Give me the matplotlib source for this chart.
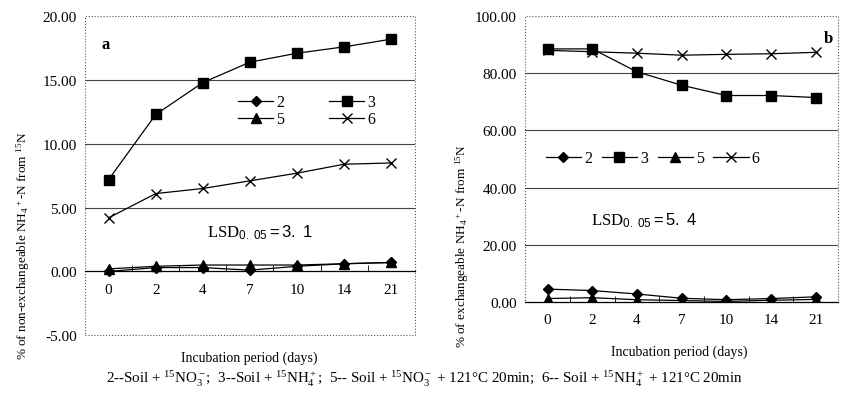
import numpy as np
import matplotlib.pyplot as plt
from matplotlib.patches import Rectangle

plt.rcParams['font.family'] = ['Liberation Serif', 'DejaVu Serif']
plt.rcParams['mathtext.fontset'] = 'custom'
plt.rcParams['mathtext.rm'] = 'Liberation Serif'
plt.rcParams['mathtext.it'] = 'Liberation Serif'
plt.rcParams['mathtext.sf'] = 'Liberation Sans'

days = ['0', '2', '4', '7', '10', '14', '21']

# panel a: non-exchangeable NH4+-N
a_s2 = [0.0, 0.3, 0.3, 0.1, 0.4, 0.6, 0.7]
a_s3 = [7.2, 12.3, 14.8, 16.4, 17.1, 17.6, 18.2]
a_s5 = [0.2, 0.4, 0.5, 0.5, 0.5, 0.6, 0.7]
a_s6 = [4.2, 6.1, 6.5, 7.1, 7.7, 8.4, 8.5]

# panel b: exchangeable NH4+-N
b_s2 = [4.5, 4.0, 2.8, 1.3, 0.8, 1.2, 1.8]
b_s3 = [88.5, 88.5, 80.5, 75.8, 72.2, 72.2, 71.5]
b_s5 = [1.2, 1.5, 0.8, 0.5, 0.2, 0.6, 0.9]
b_s6 = [88.0, 87.5, 87.0, 86.3, 86.6, 86.8, 87.3]

series_names = ['2', '3', '5', '6']
markers = {'2': 'D', '3': 's', '5': '^', '6': 'x'}
msizes = {'2': 5, '3': 6.5, '5': 6.5, '6': 7}


def plot_panel(ax, data, ylim, yticks):
    x = np.arange(len(days))
    lines = {}
    for name, vals in zip(series_names, data):
        ln, = ax.plot(x, vals, color='black', lw=0.9, marker=markers[name],
                      ms=msizes[name], mew=1.0, label=name)
        lines[name] = ln
    ax.set_xlim(-0.5, len(days) - 0.5)
    ax.set_ylim(*ylim)
    ax.set_yticks(yticks)
    ax.set_yticklabels(['%.2f' % v for v in yticks], fontsize=11)
    ax.tick_params(axis='y', length=0, pad=6)
    for v in yticks:
        if v not in (0, ylim[0], ylim[1]):
            ax.axhline(v, color='#444444', lw=0.8, zorder=0)
    for s in ['top', 'right', 'left']:
        ax.spines[s].set_visible(False)
    ax.spines['bottom'].set_position(('data', 0))
    ax.spines['bottom'].set_linewidth(0.9)
    ax.set_xticks(x)
    ax.set_xticklabels(days, fontsize=11)
    ax.set_xticks(np.arange(0.5, len(days) - 1, 1), minor=True)
    ax.tick_params(axis='x', which='major', length=0, pad=8)
    ax.tick_params(axis='x', which='minor', direction='in', length=4)
    ax.add_patch(Rectangle((0, 0), 1, 1, transform=ax.transAxes, fill=False,
                           ls=':', lw=0.8, color='#555555', clip_on=False))
    return lines


fig = plt.figure(figsize=(8.43, 4.10), dpi=100)

ax1 = fig.add_axes([0.101, 0.18, 0.391, 0.778])
la = plot_panel(ax1, [a_s2, a_s3, a_s5, a_s6], (-5, 20), [-5, 0, 5, 10, 15, 20])
ax1.legend([la['2'], la['5'], la['3'], la['6']], ['2', '5', '3', '6'], ncol=2,
           frameon=False, fontsize=11.5, loc='upper left', bbox_to_anchor=(0.42, 0.80),
           handlelength=2.2, handletextpad=0.2, columnspacing=2.8, labelspacing=0.05)
ax1.text(0.05, 0.9, 'a', transform=ax1.transAxes, fontsize=12, fontweight='bold')
ax1.text(0.37, 0.31, r'LSD$_{\mathsf{0.\ 05}}$$\mathsf{=3.\ 1}$', transform=ax1.transAxes,
         fontsize=12)

ax2 = fig.add_axes([0.623, 0.261, 0.371, 0.6975])
lb = plot_panel(ax2, [b_s2, b_s3, b_s5, b_s6], (0, 100), [0, 20, 40, 60, 80, 100])
ax2.legend([lb[n] for n in series_names], series_names, ncol=4,
           frameon=False, fontsize=11.5, loc='upper left', bbox_to_anchor=(0.02, 0.58),
           handlelength=2.2, handletextpad=0.2, columnspacing=0.6)
ax2.text(0.955, 0.91, 'b', transform=ax2.transAxes, fontsize=12, fontweight='bold')
ax2.text(0.21, 0.27, r'LSD$_{\mathsf{0.\ 05}}$$\mathsf{=5.\ 4}$', transform=ax2.transAxes,
         fontsize=12)

fig.text(0.027, 0.40, r'% of non-exchangeable NH$_4$$^+$-N from $^{15}$N',
         rotation=90, ha='center', va='center', fontsize=9.5)
fig.text(0.548, 0.40, r'% of exchangeable NH$_4$$^+$-N from $^{15}$N',
         rotation=90, ha='center', va='center', fontsize=9.5)
fig.text(0.296, 0.127, 'Incubation period (days)', ha='center', va='center', fontsize=10)
fig.text(0.806, 0.142, 'Incubation period (days)', ha='center', va='center', fontsize=10)
fig.text(0.503, 0.076,
         r'2--Soil + $^{15}$NO$_3^-$;  3--Soil + $^{15}$NH$_4^+$;  5-- Soil + $^{15}$NO$_3^-$ + 121°C 20min;  '
         r'6-- Soil + $^{15}$NH$_4^+$ + 121°C 20min',
         ha='center', va='center', fontsize=10.8)

fig.savefig('out.png', dpi=100)
